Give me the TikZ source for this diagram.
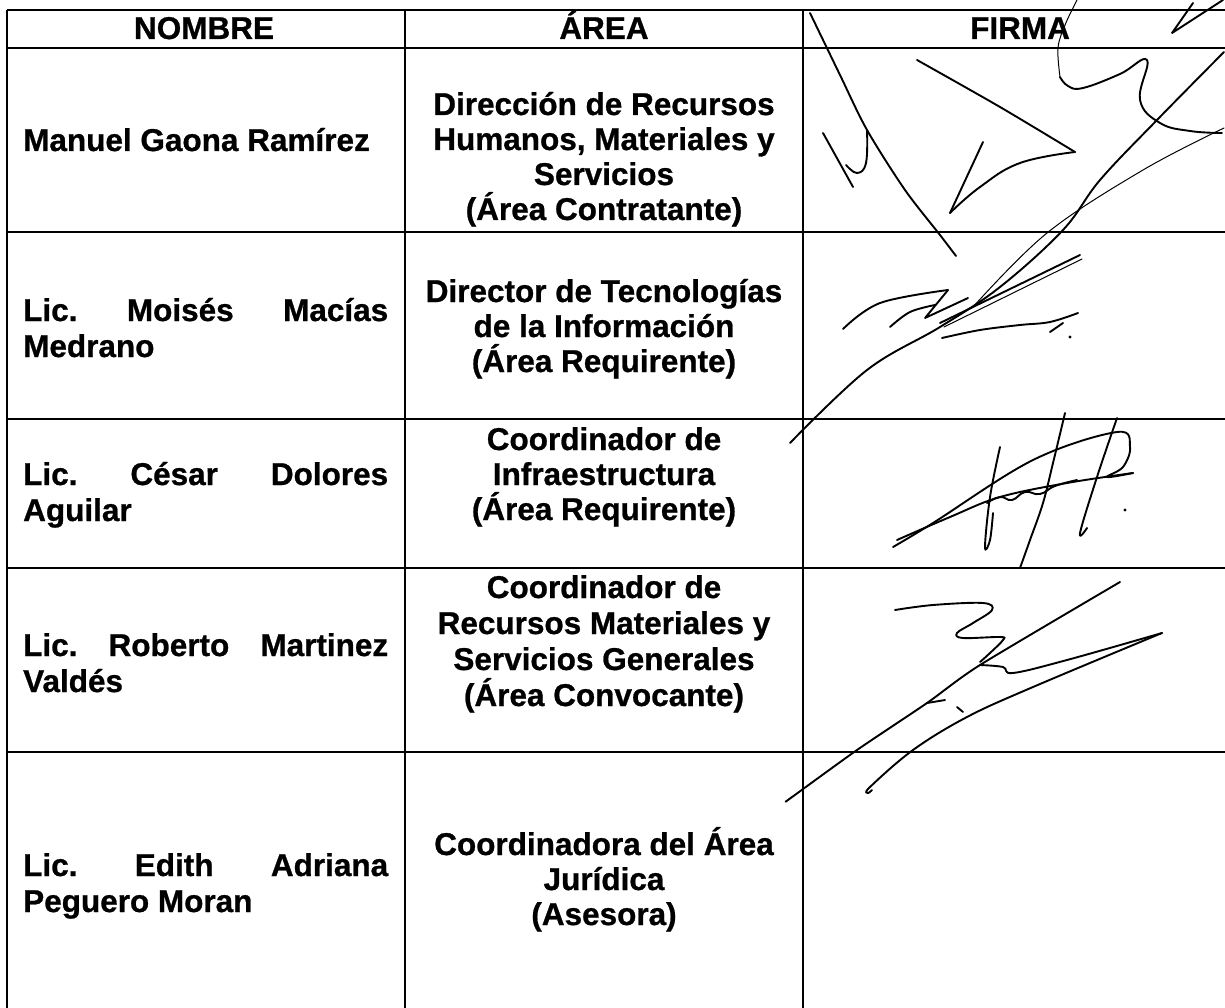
\documentclass[tikz,border=0pt]{standalone}
\usepackage{fontspec}
\setmainfont{Liberation Sans}[BoldFeatures={FakeBold=0.8}]
\frenchspacing
\newcommand\jline[1]{\makebox[365pt][s]{#1}}
\begin{document}
\begin{tikzpicture}[x=1pt,y=-1pt,
  gridline/.style={line width=1.8pt, black},
  sig/.style={line width=1.9pt, line cap=round, line join=round},
  sigthin/.style={line width=1.0pt, line cap=round, line join=round},
  txt/.style={font=\fontsize{31.5}{36}\selectfont\bfseries, inner sep=0pt},
  hdrline/.style={txt, anchor=base},
  nmline/.style={txt, anchor=base west},
  arline/.style={txt, anchor=base}]
\useasboundingbox (0,0) rectangle (1225,1008);
\fill[white] (0,0) rectangle (1225,1008);
% table rules
\foreach \yy in {10,48,232,419,568,752} \draw[gridline] (7,\yy) -- (1225,\yy);
\draw[gridline] (7,10) -- (7,1008);
\draw[gridline] (405,10) -- (405,1008);
\draw[gridline] (803,10) -- (803,1008);
% header
\node[hdrline] (h1) at (204,39) {NOMBRE};
\node[hdrline] (h2) at (604,39) {ÁREA};
\node[hdrline] (h3) at (1020,39) {FIRMA};
% names
\node[nmline] (n1a) at (23,151) {Manuel Gaona Ramírez};
\node[nmline] (n2a) at (23,321) {\jline{Lic. Moisés Macías}};
\node[nmline] (n2b) at (23,357) {Medrano};
\node[nmline] (n3a) at (23,485) {\jline{Lic. César Dolores}};
\node[nmline] (n3b) at (23,521) {Aguilar};
\node[nmline] (n4a) at (23,656) {\jline{Lic. Roberto Martinez}};
\node[nmline] (n4b) at (23,692) {Valdés};
\node[nmline] (n5a) at (23,876) {\jline{Lic. Edith Adriana}};
\node[nmline] (n5b) at (23,912) {Peguero Moran};
% areas
\node[arline] (a1a) at (604,115) {Dirección de Recursos};
\node[arline] (a1b) at (604,150) {Humanos, Materiales y};
\node[arline] (a1c) at (604,185) {Servicios};
\node[arline] (a1d) at (604,220) {(Área Contratante)};
\node[arline] (a2a) at (604,302) {Director de Tecnologías};
\node[arline] (a2b) at (604,337) {de la Información};
\node[arline] (a2c) at (604,372) {(Área Requirente)};
\node[arline] (a3a) at (604,450) {Coordinador de};
\node[arline] (a3b) at (604,485) {Infraestructura};
\node[arline] (a3c) at (604,520) {(Área Requirente)};
\node[arline] (a4a) at (604,598) {Coordinador de};
\node[arline] (a4b) at (604,634) {Recursos Materiales y};
\node[arline] (a4c) at (604,670) {Servicios Generales};
\node[arline] (a4d) at (604,706) {(Área Convocante)};
\node[arline] (a5a) at (604,855) {Coordinadora del Área};
\node[arline] (a5b) at (604,890) {Jurídica};
\node[arline] (a5c) at (604,925) {(Asesora)};
% signature 1
\draw[sig] plot[smooth,tension=0.5] coordinates {(810,13) (840,75) (867,130) (905,190) (940,235) (956,256)};
\draw[sig] (823,133) -- (853,187);
\draw[sig] plot[smooth,tension=0.7] coordinates {(846,165) (857,173) (866,163) (867,130)};
\draw[sig] plot[smooth,tension=0.5] coordinates {(917,60) (1000,107) (1075,152)};
\draw[sig] plot[smooth,tension=0.7] coordinates {(1075,152) (1020,163) (980,187) (950,213)};
\draw[sig] (983,142) -- (950,213);
\draw[sigthin] plot[smooth,tension=0.6] coordinates {(1077,0) (1065,25) (1058,48) (1060,77)};
\draw[sig] plot[smooth,tension=0.7] coordinates {(1060,77) (1068,86) (1083,88) (1120,74) (1147,60) (1140,100) (1160,123) (1190,131) (1222,133)};
\draw[sig] (1193,3) -- (1172,33) -- (1223,0);
\draw[sig] plot[smooth,tension=0.6] coordinates {(1224,52) (1157,120) (1100,180) (1063,230) (1000,287) (940,327) (867,370) (790,443)};
\draw[sigthin] plot[smooth,tension=0.6] coordinates {(1224,128) (1143,170) (1047,233) (973,307)};
% signature 2
\draw[sig] plot[smooth,tension=0.6] coordinates {(843,329) (880,303) (948,290)};
\draw[sig] (948,290) -- (925,318) -- (968,298);
\draw[sig] plot[smooth,tension=0.6] coordinates {(890,327) (910,312) (935,305)};
\draw[sig] (940,323) -- (1080,255);
\draw[sigthin] (944,327) -- (1082,259);
\draw[sig] plot[smooth,tension=0.6] coordinates {(942,338) (980,330) (1020,325) (1050,322) (1078,313)};
\draw[sig] (1050,332) -- (1063,323);
\fill (1070,337) circle (1.6);
% signature 3
\draw[sig] plot[smooth,tension=0.6] coordinates {(893,547) (933,523) (1033,460) (1117,432) (1130,447) (1123,467) (1107,477) (1133,473)};
\draw[sig] plot[smooth,tension=0.6] coordinates {(897,540) (950,517) (1000,497) (1067,483) (1133,473)};
\draw[sig] plot[smooth,tension=0.8] coordinates {(987,503) (1000,497) (1012,500) (1025,492) (1040,494) (1055,486) (1077,480)};
\draw[sig] plot[smooth,tension=0.6] coordinates {(1000,447) (990,497) (985,547) (990,540) (993,513)};
\draw[sig] plot[smooth,tension=0.6] coordinates {(1065,413) (1053,463) (1043,503) (1030,540) (1020,568)};
\draw[sig] plot[smooth,tension=0.6] coordinates {(1117,418) (1097,477) (1080,533) (1087,528)};
\fill (1125,510) circle (1.6);
% signature 4
\draw[sig] plot[smooth,tension=0.6] coordinates {(895,610) (933,605) (983,603) (992,610) (973,623) (957,633) (963,638) (1000,637) (1003,640) (990,653) (980,662)};
\draw[sig] plot[smooth,tension=0.4] coordinates {(1120,582) (980,665) (927,703) (857,750) (788,800) (792,797)};
\draw[sig] plot[smooth,tension=0.6] coordinates {(980,665) (1003,667) (1013,673) (1067,660) (1162,633)};
\draw[sig] plot[smooth,tension=0.6] coordinates {(1162,633) (1033,687) (967,717) (913,750) (870,787) (868,793) (872,790)};
\draw[sig] (927,703) -- (945,700);
\draw[sig] (957,707) -- (963,712);
\end{tikzpicture}
\end{document}
